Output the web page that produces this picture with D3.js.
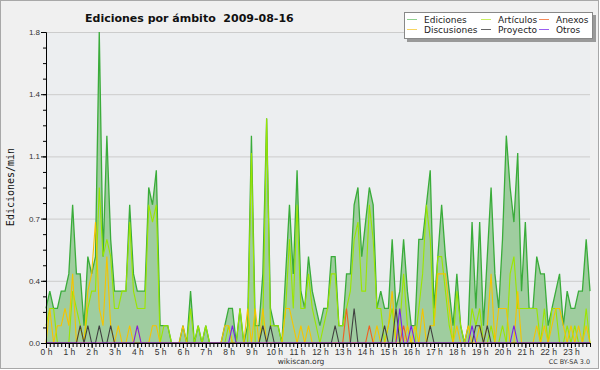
<!DOCTYPE html>
<html>
<head>
<meta charset="utf-8">
<script src="https://cdn.jsdelivr.net/npm/d3@7"></script>
<style>
  body { margin: 0; background: #ffffff; }
  svg { display: block; font-family: "DejaVu Sans", sans-serif; }
</style>
</head>
<body>
<div id="chart"></div>
<script>
// valores en ediciones/min, un punto cada 10 minutos
const chartTitle = "Ediciones por ámbito  2009-08-16";
const hourLabels = ["0 h", "1 h", "2 h", "3 h", "4 h", "5 h", "6 h", "7 h", "8 h", "9 h", "10 h", "11 h",
  "12 h", "13 h", "14 h", "15 h", "16 h", "17 h", "18 h", "19 h", "20 h", "21 h", "22 h", "23 h"];
const yTickValues = [0, 0.36, 0.72, 1.08, 1.44, 1.8];
const yTickLabels = ["0.0", "0.4", "0.7", "1.1", "1.4", "1.8"];

const ediciones = [
  0.2, 0.3, 0.2, 0.2, 0.3, 0.3, 0.4, 0.8, 0.4, 0.4, 0.1, 0.5,
  0.4, 0.5, 1.8, 0.5, 1.2, 0.6, 0.3, 0.3, 0.3, 0.3, 0.8, 0.4,
  0.3, 0.3, 0.3, 0.9, 0.8, 1.0, 0.1, 0.1, 0.1, 0, 0, 0,
  0.1, 0, 0.3, 0, 0.1, 0, 0.1, 0, 0, 0, 0, 0.1,
  0.2, 0.2, 0, 0.2, 0, 0.1, 1.2, 0.1, 0.1, 0.4, 1.3, 0.2,
  0.1, 0.1, 0, 0.4, 0.8, 0.4, 1.0, 0.3, 0.2, 0.5, 0.3, 0.2,
  0.1, 0.2, 0.2, 0.5, 0.5, 0.1, 0.1, 0.4, 0.4, 0.8, 0.9, 0.5,
  0.7, 0.9, 0.8, 0.2, 0.3, 0.2, 0.2, 0.6, 0.2, 0.3, 0.6, 0.3,
  0.1, 0.1, 0.6, 0.6, 0.8, 1.0, 0.2, 0.5, 0.8, 0.5, 0.3, 0.1,
  0.4, 0.1, 0, 0.1, 0.7, 0.2, 0.7, 0.1, 0.5, 0.9, 0.4, 0.2,
  0.6, 1.2, 0.9, 0.7, 1.1, 0.3, 0.7, 0.2, 0.2, 0.5, 0.4, 0.4,
  0.1, 0.2, 0.3, 0.4, 0.1, 0.3, 0.2, 0.2, 0.3, 0.3, 0.6, 0.3
];
const articulos = [
  0.1, 0.2, 0.2, 0, 0, 0, 0, 0.3, 0.2, 0.1, 0, 0.2,
  0.3, 0.3, 0.9, 0.5, 0.6, 0.5, 0.2, 0.2, 0.3, 0.3, 0.7, 0.3,
  0.2, 0.2, 0.2, 0.8, 0.7, 0.8, 0, 0.1, 0.1, 0, 0, 0,
  0, 0, 0.2, 0, 0.1, 0, 0.1, 0, 0, 0, 0, 0,
  0.1, 0, 0, 0.2, 0, 0, 1.1, 0, 0, 0.1, 1.3, 0.1,
  0.1, 0.1, 0, 0.2, 0.6, 0.2, 0.8, 0.2, 0.2, 0.4, 0.2, 0.1,
  0, 0.1, 0.2, 0.4, 0.4, 0.1, 0.1, 0.2, 0.3, 0.6, 0.7, 0.3,
  0.3, 0.8, 0.6, 0.2, 0.2, 0, 0.1, 0.2, 0, 0.1, 0.4, 0.1,
  0, 0, 0.2, 0.4, 0.8, 0.6, 0.1, 0.5, 0.5, 0.3, 0.1, 0,
  0.3, 0.1, 0, 0, 0.2, 0.1, 0.2, 0, 0, 0.1, 0, 0,
  0.1, 0, 0.4, 0.5, 0.2, 0.2, 0.2, 0.2, 0.2, 0.2, 0, 0.2,
  0, 0.2, 0.2, 0, 0, 0.1, 0, 0.1, 0, 0, 0.2, 0
];
const discusiones = [
  0, 0.2, 0, 0.1, 0.1, 0.2, 0.1, 0.4, 0, 0.1, 0, 0.3,
  0.4, 0.7, 0.2, 0.1, 0.5, 0.1, 0, 0.1, 0, 0, 0.1, 0,
  0.1, 0, 0, 0, 0.1, 0.1, 0, 0, 0, 0, 0, 0,
  0.1, 0, 0, 0, 0, 0, 0, 0, 0, 0, 0, 0.1,
  0.1, 0, 0, 0, 0, 0.2, 0, 0.2, 0, 0.2, 0, 0,
  0, 0, 0, 0.2, 0.2, 0.1, 0, 0.1, 0, 0.1, 0, 0,
  0, 0, 0, 0, 0, 0, 0, 0, 0, 0, 0, 0,
  0, 0, 0, 0.1, 0, 0, 0.1, 0.3, 0, 0.1, 0, 0.1,
  0, 0.1, 0, 0.2, 0, 0.1, 0.1, 0.4, 0.4, 0.4, 0.2, 0,
  0.1, 0, 0, 0.1, 0, 0, 0.1, 0, 0.1, 0.4, 0, 0.2,
  0.2, 0.2, 0, 0, 0.3, 0, 0, 0, 0, 0.1, 0, 0.1,
  0, 0.1, 0.2, 0.2, 0.1, 0, 0.1, 0, 0.1, 0, 0.1, 0
];
const anexos = [
  0, 0, 0, 0, 0, 0, 0, 0, 0, 0, 0, 0,
  0, 0, 0, 0, 0, 0, 0, 0, 0, 0, 0, 0,
  0, 0, 0, 0, 0, 0, 0, 0, 0, 0, 0, 0,
  0, 0, 0, 0, 0, 0, 0, 0, 0, 0, 0, 0,
  0, 0, 0, 0, 0, 0, 0, 0, 0, 0, 0, 0,
  0, 0, 0, 0, 0, 0, 0, 0, 0, 0, 0, 0,
  0, 0, 0, 0, 0, 0, 0, 0.2, 0, 0, 0, 0,
  0, 0.1, 0, 0, 0, 0, 0, 0, 0, 0, 0.1, 0,
  0, 0, 0, 0, 0, 0, 0, 0, 0, 0, 0, 0,
  0, 0, 0, 0, 0, 0, 0, 0, 0, 0, 0, 0,
  0, 0, 0, 0, 0, 0, 0, 0, 0, 0, 0, 0,
  0, 0, 0, 0, 0, 0, 0, 0, 0, 0, 0, 0
];
const proyecto = [
  0, 0, 0, 0, 0, 0, 0, 0, 0, 0.1, 0, 0.1,
  0, 0, 0.1, 0, 0, 0.1, 0, 0, 0, 0, 0, 0,
  0, 0, 0, 0, 0, 0, 0, 0, 0, 0, 0, 0,
  0, 0, 0, 0, 0, 0, 0, 0, 0, 0, 0, 0,
  0, 0, 0, 0, 0, 0, 0, 0, 0, 0.1, 0, 0.1,
  0, 0, 0, 0, 0, 0, 0, 0, 0, 0, 0, 0,
  0, 0, 0, 0, 0.1, 0, 0, 0, 0, 0.2, 0, 0,
  0, 0, 0, 0, 0, 0.1, 0, 0, 0.2, 0, 0, 0,
  0, 0, 0, 0, 0, 0.1, 0, 0, 0, 0, 0, 0,
  0, 0, 0, 0, 0, 0.1, 0.1, 0, 0.1, 0, 0, 0,
  0, 0, 0, 0, 0, 0, 0, 0, 0, 0, 0, 0,
  0, 0, 0, 0, 0, 0, 0, 0, 0, 0, 0, 0
];
const otros = [
  0, 0, 0, 0, 0, 0, 0, 0, 0, 0, 0, 0,
  0, 0, 0, 0, 0, 0, 0, 0, 0, 0, 0, 0,
  0.1, 0, 0, 0, 0, 0, 0, 0, 0, 0, 0, 0,
  0, 0, 0, 0, 0, 0, 0, 0, 0, 0, 0, 0,
  0, 0.1, 0, 0, 0, 0, 0, 0, 0, 0, 0, 0,
  0, 0, 0, 0, 0, 0, 0, 0, 0, 0, 0, 0,
  0, 0, 0, 0, 0, 0, 0, 0, 0, 0, 0, 0,
  0, 0, 0, 0, 0, 0, 0, 0, 0, 0.2, 0, 0,
  0.1, 0, 0, 0, 0, 0, 0, 0, 0, 0, 0, 0,
  0, 0, 0, 0, 0.1, 0, 0, 0, 0, 0, 0, 0,
  0, 0, 0, 0.1, 0, 0, 0, 0, 0, 0, 0, 0,
  0, 0, 0, 0, 0, 0, 0, 0, 0, 0, 0, 0
];

const legendItems = [
  { label: "Ediciones", color: "#8fd08f" },
  { label: "Artículos", color: "#c8ee60" },
  { label: "Anexos", color: "#f58a5a" },
  { label: "Discusiones", color: "#f8d560" },
  { label: "Proyecto", color: "#666666" },
  { label: "Otros", color: "#9a5ef0" }
];

function drawChart() {
    const width = 600;
    const height = 370;
    const left = 46, right = 590, top = 32, bottom = 343;

    const svg = d3.select("#chart")
        .append("svg")
        .attr("width", width)
        .attr("height", height);

    // fondo y marco
    svg.append("rect")
        .attr("x", 0.5).attr("y", 0.5)
        .attr("width", width - 2).attr("height", height - 2)
        .style("fill", "#f0f0f0")
        .style("stroke", "#a8a8a8");

    svg.append("rect")
        .attr("x", left).attr("y", top)
        .attr("width", right - left).attr("height", bottom - top)
        .style("fill", "#eceef0");

    const x = d3.scaleLinear().domain([0, ediciones.length - 1]).range([left, right]);
    const y = d3.scaleLinear().domain([0, 1.8]).range([bottom, top]);

    // rejilla
    svg.append("g")
        .attr("transform", `translate(${left},0)`)
        .call(d3.axisLeft(y).tickValues(yTickValues).tickSize(-(right - left)).tickFormat(""))
        .call(g => g.select(".domain").remove())
        .call(g => g.selectAll("line").style("stroke", "#cccccc"));

    const area = d3.area()
        .x((d, i) => x(i))
        .y0(y(0))
        .y1(d => y(d));

    const line = d3.line()
        .x((d, i) => x(i))
        .y(d => y(d));

    svg.append("path")
        .datum(ediciones)
        .attr("d", area)
        .style("fill", "#9fcd9f");

    svg.append("path")
        .datum(ediciones)
        .attr("d", line)
        .style("fill", "none")
        .style("stroke", "#3aac3a")
        .style("stroke-width", 1.3);

    const others = [
        { values: articulos, color: "#9be600" },
        { values: discusiones, color: "#f5c400" },
        { values: anexos, color: "#f06020" },
        { values: proyecto, color: "#404040" },
        { values: otros, color: "#7a22e8" }
    ];

    others.forEach(s => {
        svg.append("path")
            .datum(s.values)
            .attr("d", line)
            .style("fill", "none")
            .style("stroke", s.color)
            .style("stroke-width", 1.1);
    });

    // eje y
    const yAxis = svg.append("g")
        .attr("transform", `translate(${left},0)`)
        .call(d3.axisLeft(y).tickValues(yTickValues).tickSize(5).tickFormat((d, i) => yTickLabels[i]));
    yAxis.selectAll("text")
        .style("font-size", "8px")
        .style("fill", "#333")
        .attr("x", -6);

    svg.append("g")
        .attr("transform", `translate(${left},0)`)
        .call(d3.axisLeft(y).tickValues(d3.range(0, 21).map(k => k * 0.09)).tickSize(3).tickFormat(""))
        .call(g => g.select(".domain").remove());

    // eje x
    svg.append("g")
        .attr("transform", `translate(0,${bottom})`)
        .call(d3.axisBottom(x).tickValues(d3.range(ediciones.length)).tickSize(4).tickFormat(""))
        .call(g => g.select(".domain").style("stroke", "#000"));

    const xAxis = svg.append("g")
        .attr("transform", `translate(0,${bottom})`)
        .call(d3.axisBottom(x).tickValues(d3.range(0, ediciones.length, 6)).tickSize(5).tickPadding(1)
            .tickFormat((d, i) => hourLabels[i]))
        .call(g => g.select(".domain").remove());
    xAxis.selectAll("text")
        .style("font-size", "8.5px")
        .style("fill", "#333");

    // textos
    svg.append("text")
        .attr("x", 85)
        .attr("y", 22)
        .style("font-size", "11px")
        .style("font-weight", "bold")
        .style("white-space", "pre")
        .style("fill", "#111")
        .text(chartTitle);

    svg.append("text")
        .attr("transform", "translate(14,187) rotate(-90)")
        .attr("text-anchor", "middle")
        .style("font-family", "DejaVu Sans Mono")
        .style("font-size", "10px")
        .style("fill", "#111")
        .text("Ediciones/min");

    svg.append("text")
        .attr("x", 301)
        .attr("y", 364)
        .attr("text-anchor", "middle")
        .style("font-size", "7.5px")
        .style("fill", "#333")
        .text("wikiscan.org");

    svg.append("text")
        .attr("x", 590)
        .attr("y", 364)
        .attr("text-anchor", "end")
        .style("font-size", "6.4px")
        .style("fill", "#333")
        .text("CC BY-SA 3.0");

    // leyenda
    const legend = svg.append("g");
    legend.append("rect")
        .attr("x", 407).attr("y", 15)
        .attr("width", 189).attr("height", 27)
        .style("fill", "#999");
    legend.append("rect")
        .attr("x", 404.5).attr("y", 12.5)
        .attr("width", 188).attr("height", 26)
        .style("fill", "#ffffff")
        .style("stroke", "#888");

    const colX = [407, 481, 539];
    const rowY = [20, 30];
    legendItems.forEach((item, i) => {
        const cx = colX[i % 3];
        const cy = rowY[Math.floor(i / 3)];
        legend.append("line")
            .attr("x1", cx).attr("x2", cx + 10)
            .attr("y1", cy - 0.5).attr("y2", cy - 0.5)
            .style("stroke", item.color);
        legend.append("text")
            .attr("x", cx + 17)
            .attr("y", cy + 3)
            .style("font-size", "9px")
            .style("fill", "#222")
            .text(item.label);
    });
}

drawChart();
</script>
</body>
</html>
